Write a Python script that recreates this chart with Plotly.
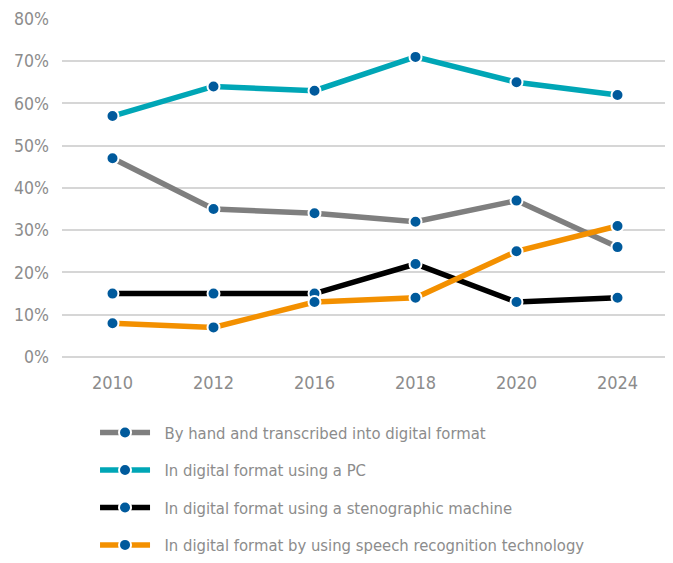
import plotly.graph_objects as go

years = ["2010", "2012", "2016", "2018", "2020", "2024"]
by_hand = [47, 35, 34, 32, 37, 26]
digital_pc = [57, 64, 63, 71, 65, 62]
stenographic = [15, 15, 15, 22, 13, 14]
speech_recognition = [8, 7, 13, 14, 25, 31]

series = [
    ("By hand and transcribed into digital format", by_hand, "#7f7f7f"),
    ("In digital format using a PC", digital_pc, "#00a6b6"),
    ("In digital format using a stenographic machine", stenographic, "#000000"),
    ("In digital format by using speech recognition technology", speech_recognition, "#f39000"),
]

FONT = "DejaVu Sans Condensed, Liberation Sans Narrow, sans-serif"
TEXT_GREY = "#8c8c8c"

fig = go.Figure()
for name, values, color in series:
    fig.add_trace(go.Scatter(
        x=years, y=values, name="\u00a0\u00a0" + name, mode="lines+markers", legendgroup=name,
        line=dict(color=color, width=5.5),
        marker=dict(color="#005a9c", size=12, line=dict(color="white", width=2)),
    ))

# page body adds an 8px offset, so the figure is sized to fit the 673x563 window
fig.update_layout(
    width=665, height=555,
    margin=dict(l=54, r=5, t=10, b=206, autoexpand=False),
    plot_bgcolor="white", paper_bgcolor="white",
    font=dict(family=FONT, size=16.5, color=TEXT_GREY),
    showlegend=True,
    legend=dict(x=0.0545, y=-0.172, xanchor="left", yanchor="top",
                font=dict(family=FONT, size=16.5, color=TEXT_GREY),
                tracegroupgap=13, itemwidth=50),
)
fig.update_xaxes(type="category", range=[-0.5, 5.5], showgrid=False, showline=False, ticks="",
                 ticklabelstandoff=13, automargin=False,
                 tickfont=dict(size=18, color=TEXT_GREY))
fig.update_yaxes(range=[0, 80.2], dtick=10, ticksuffix="%", ticklabeloverflow="allow",
                 showgrid=True, gridcolor="#d6d6d6", gridwidth=1.5, zeroline=True,
                 zerolinecolor="#d6d6d6", zerolinewidth=1.5,
                 ticklabelstandoff=12, automargin=False,
                 tickfont=dict(size=17.5, color=TEXT_GREY))

fig.write_html("out.html")
